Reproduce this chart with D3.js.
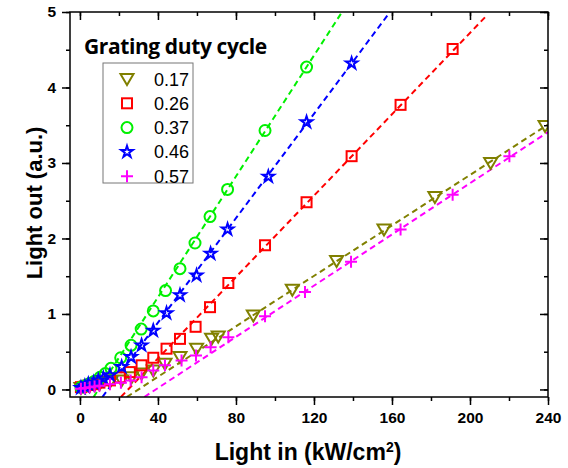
<!DOCTYPE html>
<html>
<head>
<meta charset="utf-8">
<script src="https://cdn.jsdelivr.net/npm/d3@7"></script>
<style>
body { margin: 0; background: #fff; }
</style>
</head>
<body>
<div id="chart"></div>
<script>
// duty cycle series
var names = ["0.17", "0.26", "0.37", "0.46", "0.57"];
var colors = ["#808000", "#ff0000", "#00f000", "#0000ff", "#ff00ff"];

var x017 = [0.5,2.5,5,7.5,10,15.4,21.4,26.5,31.6,37.6,43.6,51.3,59.8,67.5,70.9,88.9,108.9,131.6,155.9,182,210.6,238.5];
var y017 = [0.02,0.03,0.05,0.06,0.07,0.10,0.12,0.16,0.21,0.25,0.34,0.43,0.54,0.67,0.70,0.98,1.32,1.70,2.12,2.55,3.0,3.49];
var x026 = [0.5,2.5,5,7.5,10,15.4,20.5,25.6,31.6,37.6,44.4,51.3,59.3,66.7,76.1,94.9,116.2,139.3,164.4,191.1];
var y026 = [0.03,0.04,0.06,0.07,0.09,0.12,0.16,0.23,0.32,0.42,0.54,0.67,0.83,1.09,1.41,1.91,2.48,3.09,3.77,4.51];
var x037 = [0.5,2.5,5,7.5,10.3,13,15.9,20.9,26.2,31.4,37.6,43.9,51.3,59.0,66.7,75.7,94.9,116.2];
var y037 = [0.03,0.05,0.08,0.11,0.16,0.21,0.28,0.42,0.585,0.80,1.04,1.31,1.60,1.94,2.29,2.65,3.43,4.27];
var x046 = [0.5,2.5,4.3,7,9.4,12,15.4,21.4,26.2,31.6,37.6,44.4,51.3,59.8,67.0,75.7,96.6,116.2,139.3];
var y046 = [0.02,0.04,0.07,0.09,0.12,0.15,0.19,0.30,0.43,0.585,0.78,1.01,1.25,1.51,1.80,2.12,2.82,3.54,4.32];
var x057 = [0.5,2.5,5,7.5,10,15.4,21,26,31.6,37.6,43.6,52.1,59.5,67,76.1,94.9,115.4,139,164.4,191.1,220.2];
var y057 = [0.01,0.02,0.03,0.04,0.05,0.07,0.09,0.12,0.16,0.25,0.32,0.385,0.45,0.56,0.69,0.97,1.29,1.69,2.12,2.58,3.09];

// linear fit lines, end points [x0, y0, x1, y1]
var fit017 = [24, -0.1, 240, 3.51];
var fit026 = [21, -0.1, 207.7, 4.93];
var fit037 = [7, -0.1, 134.4, 5];
var fit046 = [11.5, -0.1, 159, 5];
var fit057 = [33, -0.1, 240, 3.41];

var xTicks = [0, 40, 80, 120, 160, 200, 240];
var yTicks = [0, 1, 2, 3, 4, 5];

var series = [
  {name: names[0], color: colors[0], xs: x017, ys: y017, fit: fit017, sym: "tri"},
  {name: names[1], color: colors[1], xs: x026, ys: y026, fit: fit026, sym: "square"},
  {name: names[2], color: colors[2], xs: x037, ys: y037, fit: fit037, sym: "circle"},
  {name: names[3], color: colors[3], xs: x046, ys: y046, fit: fit046, sym: "star"},
  {name: names[4], color: colors[4], xs: x057, ys: y057, fit: fit057, sym: "plus"}
];

var W = 568, H = 468;
var L = 70, R = 548, T = 12, B = 397;

var svg = d3.select("#chart").append("svg").attr("width", W).attr("height", H);

var x = d3.scaleLinear().domain([-5.1, 240]).range([L, R]);
var y = d3.scaleLinear().domain([-0.1, 5]).range([B, T]);

svg.append("clipPath").attr("id", "clip")
   .append("rect").attr("x", L).attr("y", T).attr("width", R - L).attr("height", B - T);

// marker shapes
function marker(g, sym, color) {
  if (sym == "tri") {
    g.append("path").attr("d", "M-6.5,-5L6.5,-5L0,6Z");
  } else if (sym == "square") {
    g.append("rect").attr("x", -5).attr("y", -5).attr("width", 10).attr("height", 10);
  } else if (sym == "circle") {
    g.append("circle").attr("r", 5.5);
  } else if (sym == "star") {
    g.append("path").attr("d", d3.symbol().type(d3.symbolStar).size(42)());
  } else {
    g.append("path").attr("d", "M-6,0L6,0M0,-6L0,6");
  }
  g.attr("fill", "none").attr("stroke", color).attr("stroke-width", 2);
}

var plot = svg.append("g").attr("clip-path", "url(#clip)");

series.forEach(function(s) {
  plot.append("line")
      .attr("x1", x(s.fit[0])).attr("y1", y(s.fit[1]))
      .attr("x2", x(s.fit[2])).attr("y2", y(s.fit[3]))
      .attr("stroke", s.color).attr("stroke-width", 2)
      .attr("stroke-dasharray", "6,4");
});

series.forEach(function(s) {
  for (var i = 0; i < s.xs.length; i++) {
    var g = plot.append("g").attr("transform", "translate(" + x(s.xs[i]) + "," + y(s.ys[i]) + ")");
    marker(g, s.sym, s.color);
  }
});

// axes: bottom/left ticks outside, top/right mirrored inside
var xMinor = d3.range(0, 241, 20), yMinor = d3.range(0, 5.01, 0.5);

function styleAxis(g) {
  g.select(".domain").remove();
  g.selectAll("line").attr("stroke", "#000").attr("stroke-width", 1.5);
  g.selectAll("text").attr("font-family", "Liberation Sans, Arial, sans-serif")
   .attr("font-weight", "bold").attr("font-size", 15.5).attr("fill", "#000");
}

svg.append("g").attr("transform", "translate(0," + B + ")")
   .call(d3.axisBottom(x).tickValues(xMinor).tickSize(4).tickFormat(""))
   .call(styleAxis);
svg.append("g").attr("transform", "translate(0," + B + ")")
   .call(d3.axisBottom(x).tickValues(xTicks).tickSize(8).tickPadding(7))
   .call(styleAxis);
svg.append("g").attr("transform", "translate(0," + T + ")")
   .call(d3.axisBottom(x).tickValues(xMinor).tickSize(4).tickFormat(""))
   .call(styleAxis);
svg.append("g").attr("transform", "translate(0," + T + ")")
   .call(d3.axisBottom(x).tickValues(xTicks).tickSize(8).tickFormat(""))
   .call(styleAxis);

svg.append("g").attr("transform", "translate(" + L + ",0)")
   .call(d3.axisLeft(y).tickValues(yMinor).tickSize(4).tickFormat(""))
   .call(styleAxis);
svg.append("g").attr("transform", "translate(" + L + ",0)")
   .call(d3.axisLeft(y).tickValues(yTicks).tickSize(8).tickPadding(6).tickFormat(d3.format("d")))
   .call(styleAxis);
svg.append("g").attr("transform", "translate(" + R + ",0)")
   .call(d3.axisLeft(y).tickValues(yMinor).tickSize(4).tickFormat(""))
   .call(styleAxis);
svg.append("g").attr("transform", "translate(" + R + ",0)")
   .call(d3.axisLeft(y).tickValues(yTicks).tickSize(8).tickFormat(""))
   .call(styleAxis);

svg.append("rect").attr("x", L).attr("y", T).attr("width", R - L).attr("height", B - T)
   .attr("fill", "none").attr("stroke", "#000").attr("stroke-width", 1.5);

// axis titles
svg.append("text").attr("x", 308).attr("y", 460).attr("text-anchor", "middle")
   .attr("font-family", "Liberation Sans, Arial, sans-serif").attr("font-weight", "bold")
   .attr("font-size", 23)
   .html('Light in (kW/cm<tspan dy="-8" font-size="14">2</tspan><tspan dy="8">)</tspan>');

svg.append("text").attr("transform", "translate(42,203) rotate(-90)").attr("text-anchor", "middle")
   .attr("font-family", "Liberation Sans, Arial, sans-serif").attr("font-weight", "bold")
   .attr("font-size", 22).text("Light out (a.u.)");

// legend
svg.append("text").attr("x", 84).attr("y", 54)
   .attr("font-family", "Open Sans, sans-serif").attr("font-weight", "bold")
   .attr("font-size", 21).attr("letter-spacing", -0.4).text("Grating duty cycle");

svg.append("rect").attr("x", 103).attr("y", 63).attr("width", 90).attr("height", 120)
   .attr("fill", "#fff").attr("stroke", "#777").attr("stroke-width", 1);

series.forEach(function(s, i) {
  var cy = 79 + i * 24.3;
  var g = svg.append("g").attr("transform", "translate(127," + cy + ")");
  marker(g, s.sym, s.color);
  svg.append("text").attr("x", 154).attr("y", cy + 6.5)
     .attr("font-family", "Liberation Sans, Arial, sans-serif").attr("font-size", 18)
     .text(s.name);
});
</script>
</body>
</html>
